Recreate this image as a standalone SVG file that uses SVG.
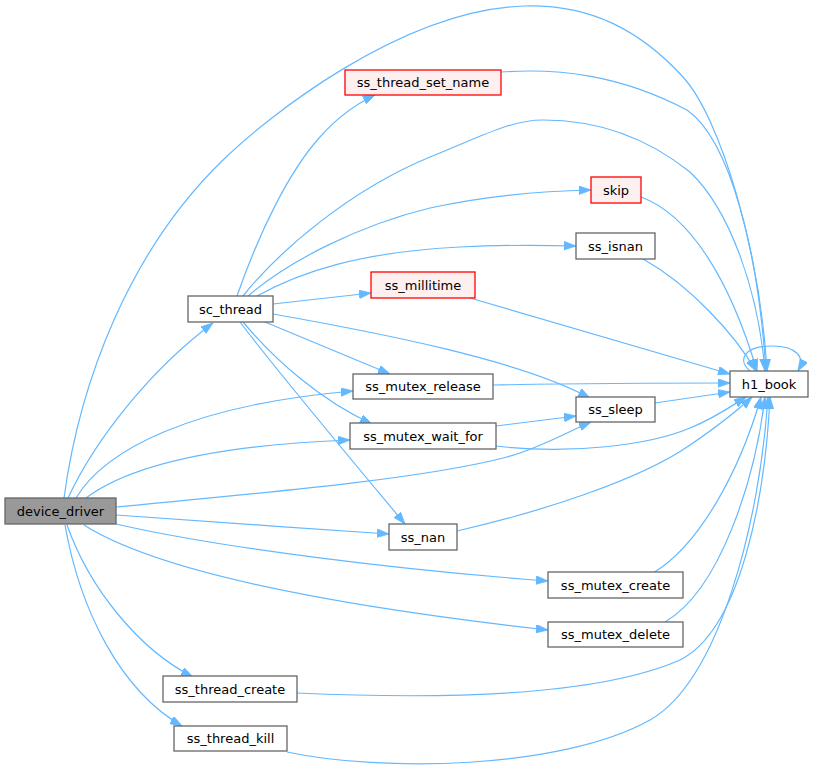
<svg xmlns="http://www.w3.org/2000/svg" width="813" height="773" viewBox="0 0 813 773">
<style>
.n rect{fill:#ffffff;stroke:#666666;stroke-width:1.3}
.r rect{fill:#fff0f0;stroke:#ff0000;stroke-width:1.3}
.g rect{fill:#999999;stroke:#666666;stroke-width:1.3}
text{font-family:"DejaVu Sans",sans-serif;font-size:13px;fill:#000000;text-anchor:middle}
#edges path{fill:none;stroke:#63b8ff;stroke-width:1.2;marker-end:url(#ah)}
</style>
<defs>
<marker id="ah" markerUnits="userSpaceOnUse" markerWidth="13" markerHeight="10" refX="12" refY="4.25" orient="auto">
<path d="M0,0 L12,4.25 L0,8.5 z" fill="#63b8ff" stroke="#63b8ff" stroke-width="0.8"/>
</marker>
</defs>
<rect width="813" height="773" fill="#ffffff"/>
<g id="edges">
<path d="M64,498 C80,380 130,250 223,160 C265,119 400,10 524,6 C590,4 640,30 683,77 C720,117 760,250 767,371"/>
<path d="M68,498 C95,440 150,370 213,323"/>
<path d="M76,498 C105,450 190,405 353,391"/>
<path d="M86,498 C130,465 220,445 350,440"/>
<path d="M116,507 C250,494 420,480 507,457 C540,448 565,433 591,422"/>
<path d="M116,515 C200,521 300,528 389,534"/>
<path d="M116,524 C220,548 400,570 548,581"/>
<path d="M84,525 C150,567 300,602 548,630"/>
<path d="M67,525 C90,590 140,650 193,677"/>
<path d="M65,525 C80,610 120,690 182,726"/>
<path d="M237,296 C260,230 290,170 320,137 C335,120 352,106 375,95"/>
<path d="M243,296 C280,250 350,190 430,157 C480,137 510,120 543,120 C600,120 650,140 690,172 C730,210 758,290 765,371"/>
<path d="M248,296 C290,260 360,225 430,208 C490,195 540,191 591,190"/>
<path d="M257,296 C300,272 360,252 460,247 C500,245 540,245 576,246"/>
<path d="M273,304 L371,293"/>
<path d="M273,314 C380,333 520,360 590,398"/>
<path d="M265,322 L390,374"/>
<path d="M243,322 C275,360 320,400 372,424"/>
<path d="M240,322 C280,375 360,470 405,524"/>
<path d="M501,72 C560,68 620,75 687,110 C730,140 758,250 766,371"/>
<path d="M641,197 C690,215 730,280 757,371"/>
<path d="M643,259 C690,285 735,335 756,371"/>
<path d="M470,298 L730,374"/>
<path d="M493,385 C600,383 680,383 730,383"/>
<path d="M655,403 L730,392"/>
<path d="M496,426 L576,416"/>
<path d="M496,446 C570,455 650,445 690,428 C715,418 733,405 746,397"/>
<path d="M457,531 C540,512 640,480 690,445 C715,428 738,410 752,397"/>
<path d="M653,573 C700,545 740,470 761,397"/>
<path d="M665,622 C720,590 755,480 765,397"/>
<path d="M297,693 C450,700 600,695 680,660 C740,630 765,500 770,397"/>
<path d="M287,752 C380,772 560,770 650,720 C720,680 760,520 768,397"/>
<path d="M750,371 C737,360 744,346 772,346 C796,346 806,357 798,371"/>
</g>
<g id="device_driver" class="g"><rect x="5" y="498" width="111" height="26"/><text x="60.5" y="515.5">device_driver</text></g>
<g id="sc_thread" class="n"><rect x="188" y="296" width="85" height="26"/><text x="230.5" y="313.5">sc_thread</text></g>
<g id="ss_thread_set_name" class="r"><rect x="345" y="70" width="156" height="25"/><text x="423" y="87">ss_thread_set_name</text></g>
<g id="skip" class="r"><rect x="591" y="177" width="50" height="26"/><text x="616" y="194.5">skip</text></g>
<g id="ss_isnan" class="n"><rect x="576" y="233" width="79" height="26"/><text x="615.5" y="250.5">ss_isnan</text></g>
<g id="ss_millitime" class="r"><rect x="371" y="272" width="104" height="26"/><text x="423" y="289.5">ss_millitime</text></g>
<g id="ss_mutex_release" class="n"><rect x="353" y="374" width="140" height="25"/><text x="423" y="391">ss_mutex_release</text></g>
<g id="h1_book" class="n"><rect x="730" y="371" width="78" height="26"/><text x="769" y="388.5">h1_book</text></g>
<g id="ss_sleep" class="n"><rect x="576" y="397" width="79" height="25"/><text x="615.5" y="414">ss_sleep</text></g>
<g id="ss_mutex_wait_for" class="n"><rect x="350" y="423" width="146" height="26"/><text x="423" y="440.5">ss_mutex_wait_for</text></g>
<g id="ss_nan" class="n"><rect x="389" y="524" width="68" height="26"/><text x="423" y="541.5">ss_nan</text></g>
<g id="ss_mutex_create" class="n"><rect x="548" y="572" width="135" height="26"/><text x="615.5" y="589.5">ss_mutex_create</text></g>
<g id="ss_mutex_delete" class="n"><rect x="548" y="622" width="135" height="25"/><text x="615.5" y="639">ss_mutex_delete</text></g>
<g id="ss_thread_create" class="n"><rect x="163" y="676" width="134" height="26"/><text x="230" y="693.5">ss_thread_create</text></g>
<g id="ss_thread_kill" class="n"><rect x="174" y="726" width="113" height="25"/><text x="230.5" y="743">ss_thread_kill</text></g>
</svg>
